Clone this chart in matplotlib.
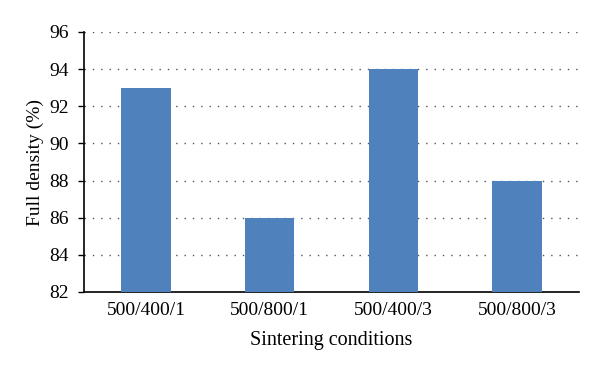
import matplotlib.pyplot as plt

conditions = ["500/400/1", "500/800/1", "500/400/3", "500/800/3"]
full_density = [93, 86, 94, 88]
y_ticks = [82, 84, 86, 88, 90, 92, 94, 96]

plt.rcParams['font.family'] = ['Liberation Serif', 'DejaVu Serif']

fig = plt.figure(figsize=(6.0, 3.73), dpi=100)
ax = fig.add_axes([84 / 600, 1 - 292 / 373, 495 / 600, 260 / 373])

x = range(len(conditions))
ax.bar(x, full_density, width=0.4, color="#4f81bd", zorder=3)

ax.set_xlim(-0.5, len(conditions) - 0.5)
ax.set_ylim(82, 96)
ax.set_yticks(y_ticks)
ax.set_xticks(list(x))
ax.set_xticklabels(conditions)

ax.yaxis.grid(True, color="#555555", linestyle=(0, (1, 5)), linewidth=1.0)
ax.set_axisbelow(True)

for side in ["top", "right"]:
    ax.spines[side].set_visible(False)
ax.spines["left"].set_linewidth(1.2)
ax.spines["bottom"].set_linewidth(1.2)
ax.tick_params(axis="y", direction="out", length=4, width=1.0, labelsize=14, pad=7)
ax.tick_params(axis="x", length=0, labelsize=14, pad=7)

ax.set_xlabel("Sintering conditions", fontsize=14.5, labelpad=9)
ax.set_ylabel("Full density (%)", fontsize=14, labelpad=4)

fig.savefig("out.png", dpi=100)
